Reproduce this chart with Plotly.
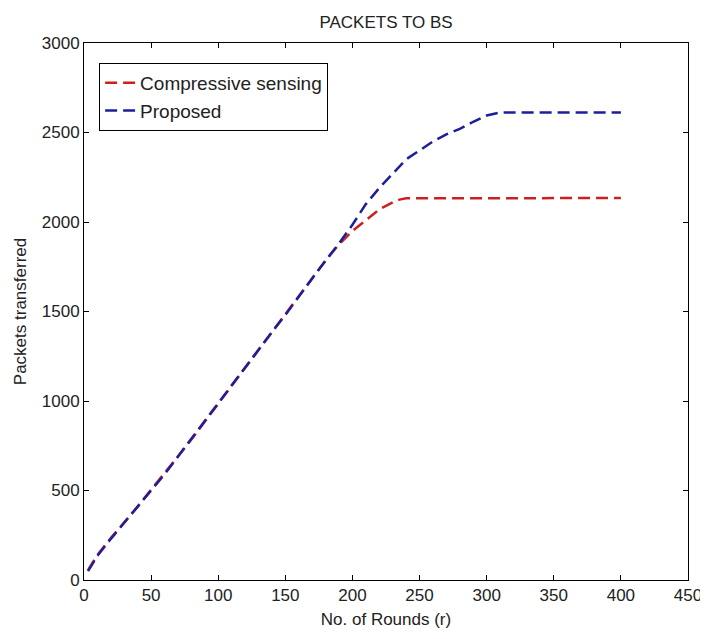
import plotly.graph_objects as go

rounds_cs = [3, 10, 20, 30, 40, 50, 60, 70, 80, 90, 100, 110, 120, 130, 140, 150,
             160, 170, 180, 190, 200, 210, 220, 230, 235, 240, 400]
packets_cs = [55, 140, 235, 320, 410, 505, 595, 690, 785, 885, 990, 1085, 1190, 1290, 1385, 1490,
              1590, 1690, 1785, 1875, 1950, 2010, 2070, 2110, 2125, 2132, 2134]

rounds_prop = [3, 10, 20, 30, 40, 50, 60, 70, 80, 90, 100, 110, 120, 130, 140, 150,
               160, 170, 180, 190, 200, 210, 220, 230, 240, 250, 260, 270, 280, 290, 300, 310, 400]
packets_prop = [50, 135, 230, 320, 410, 500, 590, 690, 790, 885, 990, 1090, 1185, 1285, 1385, 1480,
                1585, 1685, 1785, 1880, 1985, 2100, 2190, 2270, 2350, 2400, 2450, 2490, 2520, 2560, 2595, 2612, 2612]

x_ticks = [0, 50, 100, 150, 200, 250, 300, 350, 400, 450]
y_ticks = [0, 500, 1000, 1500, 2000, 2500, 3000]

FONT = "Liberation Sans Narrow, Arial Narrow, Liberation Sans, Arial, sans-serif"
FS = 17

fig = go.Figure()
fig.add_trace(go.Scatter(x=rounds_cs, y=packets_cs, mode="lines", name="Compressive sensing",
                         line=dict(color="#cc2020", width=2.5, dash="12px,6px")))
fig.add_trace(go.Scatter(x=rounds_prop, y=packets_prop, mode="lines", name="Proposed",
                         line=dict(color="#1e1e9a", width=2.5, dash="12px,6px")))

axis_common = dict(showgrid=False, zeroline=False, showline=True, linecolor="black", linewidth=1,
                   mirror="ticks", ticks="inside", ticklen=5, tickcolor="black", automargin=False,
                   tickfont=dict(family=FONT, size=FS, color="#222"))

fig.update_layout(
    width=700, height=631,
    margin=dict(l=76, r=20, t=35, b=59),
    paper_bgcolor="white", plot_bgcolor="white",
    font=dict(family=FONT, size=FS, color="#222"),
    title=dict(text="PACKETS TO BS", x=0.5, xanchor="center", y=0.978, yanchor="middle",
               font=dict(family=FONT, size=FS, color="#222"), xref="paper"),
    xaxis=dict(range=[0, 450], tickvals=x_ticks,
               title=dict(text="No. of Rounds (r)", standoff=8, font=dict(family=FONT, size=FS)),
               **axis_common),
    yaxis=dict(range=[0, 3000], tickvals=y_ticks,
               title=dict(text="Packets transferred", standoff=10, font=dict(family=FONT, size=FS)),
               **axis_common),
    legend=dict(x=0.025, y=0.963, xanchor="left", yanchor="top", bgcolor="white",
                bordercolor="black", borderwidth=1, font=dict(family=FONT, size=19),
                tracegroupgap=0),
    showlegend=True,
)

fig.write_html("out.html")
